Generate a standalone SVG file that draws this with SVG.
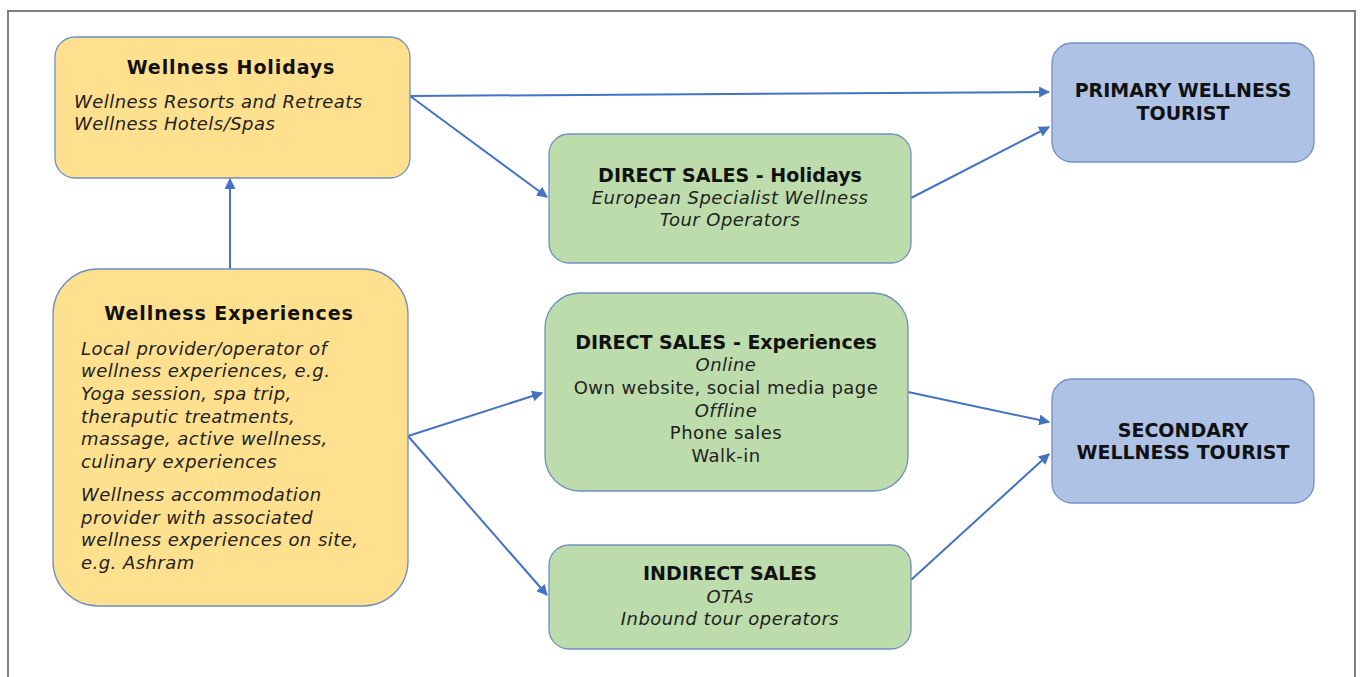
<svg xmlns="http://www.w3.org/2000/svg" width="1360" height="677" viewBox="0 0 1360 677">
  <style>
    .frame { fill: #ffffff; stroke: #7f7f7f; stroke-width: 2; }
    .yellow { fill: #ffe08f; stroke: #6f8fc4; stroke-width: 1.3; }
    .green { fill: #bddcab; stroke: #6f8fc4; stroke-width: 1.3; }
    .blue { fill: #adc2e5; stroke: #6f8fc4; stroke-width: 1.3; }
    text { font-family: "DejaVu Sans", Verdana, sans-serif; fill: #111111; }
    .title { font-size: 19px; font-weight: bold; text-anchor: middle; }
    .wide { letter-spacing: 0.9px; }
    .body { font-size: 18px; font-style: italic; fill: #222222; letter-spacing: 0.45px; }
    .c { text-anchor: middle; }
    .plain { font-size: 18px; fill: #222222; text-anchor: middle; letter-spacing: 0.45px; }
    .conn { stroke: #4472c4; stroke-width: 2; fill: none; marker-end: url(#arrow); }
  </style>
  <defs>
    <marker id="arrow" viewBox="0 0 10 10" refX="9" refY="5" markerWidth="5.5" markerHeight="5.5" orient="auto" markerUnits="strokeWidth">
      <path d="M0,0 L10,5 L0,10 Z" fill="#4472c4"/>
    </marker>
  </defs>

  <rect class="frame" x="8" y="11" width="1347" height="680"/>

  <g id="connectors">
    <line class="conn" x1="410" y1="96" x2="1049" y2="92"/>
    <line class="conn" x1="410" y1="96" x2="547" y2="197"/>
    <line class="conn" x1="911" y1="198" x2="1049" y2="127"/>
    <line class="conn" x1="230" y1="269" x2="230" y2="179"/>
    <line class="conn" x1="408" y1="436" x2="542" y2="393"/>
    <line class="conn" x1="408" y1="436" x2="547" y2="595"/>
    <line class="conn" x1="908" y1="392" x2="1049" y2="422"/>
    <line class="conn" x1="911" y1="580" x2="1049" y2="454"/>
  </g>

  <g id="wellness-holidays">
    <rect class="yellow" x="55" y="37" width="355" height="141" rx="20"/>
    <text class="title wide" x="231" y="74">Wellness Holidays</text>
    <text class="body" x="74" y="108">Wellness Resorts and Retreats</text>
    <text class="body" x="74" y="130">Wellness Hotels/Spas</text>
  </g>

  <g id="wellness-experiences">
    <rect class="yellow" x="53" y="269" width="355" height="337" rx="45"/>
    <text class="title wide" x="229" y="320">Wellness Experiences</text>
    <text class="body" x="81" y="355">Local provider/operator of</text>
    <text class="body" x="81" y="377">wellness experiences, e.g.</text>
    <text class="body" x="81" y="400">Yoga session, spa trip,</text>
    <text class="body" x="81" y="423">theraputic treatments,</text>
    <text class="body" x="81" y="445">massage, active wellness,</text>
    <text class="body" x="81" y="468">culinary experiences</text>
    <text class="body" x="81" y="501">Wellness accommodation</text>
    <text class="body" x="81" y="524">provider with associated</text>
    <text class="body" x="81" y="546">wellness experiences on site,</text>
    <text class="body" x="81" y="569">e.g. Ashram</text>
  </g>

  <g id="direct-sales-holidays">
    <rect class="green" x="549" y="134" width="362" height="129" rx="20"/>
    <text class="title" x="730" y="182">DIRECT SALES - Holidays</text>
    <text class="body c" x="730" y="204">European Specialist Wellness</text>
    <text class="body c" x="730" y="226">Tour Operators</text>
  </g>

  <g id="direct-sales-experiences">
    <rect class="green" x="545" y="293" width="363" height="198" rx="35"/>
    <text class="title" x="726" y="349">DIRECT SALES - Experiences</text>
    <text class="body c" x="726" y="371">Online</text>
    <text class="plain" x="726" y="394">Own website, social media page</text>
    <text class="body c" x="726" y="417">Offline</text>
    <text class="plain" x="726" y="439">Phone sales</text>
    <text class="plain" x="726" y="462">Walk-in</text>
  </g>

  <g id="indirect-sales">
    <rect class="green" x="549" y="545" width="362" height="104" rx="20"/>
    <text class="title" x="730" y="580">INDIRECT SALES</text>
    <text class="body c" x="730" y="603">OTAs</text>
    <text class="body c" x="730" y="625">Inbound tour operators</text>
  </g>

  <g id="primary-tourist">
    <rect class="blue" x="1052" y="43" width="262" height="119" rx="20"/>
    <text class="title" x="1183" y="97">PRIMARY WELLNESS</text>
    <text class="title" x="1183" y="120">TOURIST</text>
  </g>

  <g id="secondary-tourist">
    <rect class="blue" x="1052" y="379" width="262" height="124" rx="20"/>
    <text class="title" x="1183" y="437">SECONDARY</text>
    <text class="title" x="1183" y="459">WELLNESS TOURIST</text>
  </g>
</svg>
